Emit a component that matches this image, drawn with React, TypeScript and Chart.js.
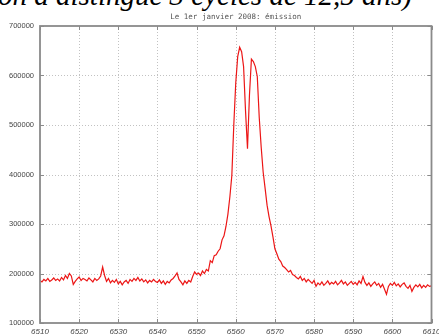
import React, { useEffect, useRef } from "react";
import { Chart, registerables } from "chart.js";

Chart.register(...registerables);

const HEADER_TEXT = "on a distingué 3 cycles de 12,5 ans)";
const TITLE = "Le 1er janvier 2008: émission";

const X_TICKS = [6510, 6520, 6530, 6540, 6550, 6560, 6570, 6580, 6590, 6600, 6610];
const Y_TICKS = [100000, 200000, 300000, 400000, 500000, 600000, 700000];

// wavelength grid (Å): first sample and sampling step
const WAVE_START = 6510;
const WAVE_STEP = 0.5;

// 6510.0 – 6550.0 Å
const fluxBlueWing = [
  186000, 183000, 188000, 185000, 190000, 184000, 187000, 191000, 186000, 189000,
  185000, 192000, 187000, 196000, 190000, 200000, 195000, 178000, 184000, 189000,
  193000, 186000, 190000, 188000, 185000, 191000, 187000, 183000, 190000, 186000,
  189000, 195000, 213000, 196000, 184000, 190000, 181000, 186000, 182000, 188000,
  179000, 184000, 177000, 183000, 186000, 180000, 188000, 184000, 190000, 186000,
  192000, 185000, 189000, 183000, 187000, 181000, 186000, 183000, 188000, 184000,
  182000, 187000, 180000, 185000, 178000, 184000, 181000, 187000, 190000, 195000,
  201000, 188000, 183000, 177000, 185000, 180000, 186000, 183000, 194000, 203000,
  198000,
];

// 6550.5 – 6575.0 Å
const fluxCore = [
  201000, 196000, 205000, 200000, 208000, 205000, 226000, 222000, 236000, 238000,
  245000, 250000, 268000, 276000, 295000, 320000, 355000, 398000, 500000, 585000,
  638000, 657000, 648000, 618000, 528000, 452000, 560000, 633000, 628000, 618000,
  598000, 515000, 455000, 405000, 372000, 338000, 315000, 296000, 274000, 250000,
  240000, 229000, 224000, 215000, 212000, 208000, 203000, 206000, 198000, 196000,
];

// 6575.5 – 6610.0 Å
const fluxRedWing = [
  192000, 189000, 194000, 186000, 190000, 183000, 188000, 184000, 180000, 186000,
  174000, 181000, 177000, 183000, 176000, 180000, 185000, 178000, 182000, 179000,
  184000, 177000, 181000, 186000, 179000, 183000, 176000, 180000, 184000, 178000,
  182000, 177000, 185000, 180000, 194000, 182000, 176000, 181000, 174000, 179000,
  183000, 176000, 180000, 172000, 178000, 168000, 158000, 174000, 180000, 176000,
  182000, 175000, 179000, 173000, 178000, 181000, 174000, 170000, 176000, 164000,
  172000, 177000, 173000, 178000, 171000, 176000, 172000, 177000, 174000, 175000,
];

const FRAME_COLOR = "#8a8a8a";
const GRID_COLOR = "#c2c2c2";
const LINE_COLOR = "rgb(236, 22, 22)";

const framePlugin = {
  id: "gnuplotFrame",
  beforeDatasetsDraw(chart: any) {
    const { ctx, chartArea: a, scales } = chart;
    const x = scales.x;
    const y = scales.y;
    ctx.save();
    ctx.strokeStyle = GRID_COLOR;
    ctx.lineWidth = 1;
    ctx.setLineDash([1, 2]);
    X_TICKS.forEach((v) => {
      const px = Math.round(x.getPixelForValue(v)) + 0.5;
      if (px > a.left + 2 && px < a.right - 2) {
        ctx.beginPath();
        ctx.moveTo(px, a.top);
        ctx.lineTo(px, a.bottom);
        ctx.stroke();
      }
    });
    Y_TICKS.forEach((v) => {
      const py = Math.round(y.getPixelForValue(v)) + 0.5;
      if (py > a.top + 2 && py < a.bottom - 2) {
        ctx.beginPath();
        ctx.moveTo(a.left, py);
        ctx.lineTo(a.right, py);
        ctx.stroke();
      }
    });
    ctx.restore();
  },
  afterDatasetsDraw(chart: any) {
    const { ctx, chartArea: a, scales } = chart;
    const x = scales.x;
    const y = scales.y;
    const t = 4;
    ctx.save();
    ctx.strokeStyle = FRAME_COLOR;
    ctx.lineWidth = 1;
    X_TICKS.forEach((v) => {
      const px = Math.round(x.getPixelForValue(v)) + 0.5;
      ctx.beginPath();
      ctx.moveTo(px, a.bottom);
      ctx.lineTo(px, a.bottom - t);
      ctx.moveTo(px, a.top);
      ctx.lineTo(px, a.top + t);
      ctx.stroke();
    });
    Y_TICKS.forEach((v) => {
      const py = Math.round(y.getPixelForValue(v)) + 0.5;
      ctx.beginPath();
      ctx.moveTo(a.left, py);
      ctx.lineTo(a.left + t, py);
      ctx.moveTo(a.right, py);
      ctx.lineTo(a.right - t, py);
      ctx.stroke();
    });
    ctx.lineWidth = 1.8;
    ctx.strokeRect(a.left, a.top, a.right - a.left, a.bottom - a.top);
    ctx.restore();
  },
  afterDraw(chart: any) {
    const { ctx, chartArea: a } = chart;
    ctx.save();
    ctx.fillStyle = "#555";
    ctx.font = "7.5px 'DejaVu Sans Mono', monospace";
    ctx.textAlign = "center";
    ctx.textBaseline = "middle";
    ctx.fillText(TITLE, (a.left + a.right) / 2, 17);
    ctx.restore();
  },
};

export default function App() {
  const canvasRef = useRef<HTMLCanvasElement | null>(null);

  useEffect(() => {
    const canvas = canvasRef.current;
    if (!canvas) return;
    const allFlux = [...fluxBlueWing, ...fluxCore, ...fluxRedWing];
    const points = allFlux.map((f, i) => ({ x: WAVE_START + i * WAVE_STEP, y: f }));

    const chart = new Chart(canvas, {
      type: "line",
      data: {
        datasets: [
          {
            data: points,
            borderColor: LINE_COLOR,
            borderWidth: 1.2,
            pointRadius: 0,
            tension: 0,
            fill: false,
          },
        ],
      },
      options: {
        animation: false,
        responsive: false,
        devicePixelRatio: 1,
        layout: { padding: { top: 26, right: 7.5, left: 0, bottom: 0 } },
        plugins: {
          legend: { display: false },
          tooltip: { enabled: false },
          title: { display: false },
        },
        scales: {
          x: {
            type: "linear",
            min: 6510,
            max: 6610,
            grid: { display: false, drawTicks: false },
            border: { display: false },
            afterBuildTicks: (scale: any) => {
              scale.ticks = X_TICKS.map((v) => ({ value: v }));
            },
            afterFit: (scale: any) => {
              scale.height = 11;
              scale.paddingLeft = 0;
              scale.paddingRight = 0;
            },
            ticks: {
              autoSkip: false,
              maxRotation: 0,
              padding: 4,
              color: "#444",
              font: { family: "'Liberation Sans', sans-serif", size: 8, style: "italic" },
              callback: (v: any) => String(v),
            },
          },
          y: {
            type: "linear",
            min: 100000,
            max: 700000,
            grid: { display: false, drawTicks: false },
            border: { display: false },
            afterBuildTicks: (scale: any) => {
              scale.ticks = Y_TICKS.map((v) => ({ value: v }));
            },
            afterFit: (scale: any) => {
              scale.width = 40;
            },
            ticks: {
              padding: 6,
              color: "#444",
              font: { family: "'Liberation Sans', sans-serif", size: 7.5 },
              callback: (v: any) => String(v),
            },
          },
        },
      },
      plugins: [framePlugin],
    });
    return () => chart.destroy();
  }, []);

  return (
    <div
      style={{
        position: "fixed",
        left: 0,
        top: 0,
        width: 439,
        height: 334,
        overflow: "hidden",
        background: "#fff",
      }}
    >
      <div
        style={{
          position: "absolute",
          left: -2,
          top: -19,
          fontFamily: "'Liberation Serif', 'Times New Roman', serif",
          fontStyle: "italic",
          fontSize: 29,
          lineHeight: "29px",
          whiteSpace: "nowrap",
          color: "#000",
        }}
      >
        {HEADER_TEXT}
      </div>
      <canvas
        ref={canvasRef}
        width={439}
        height={334}
        style={{ position: "absolute", left: 0, top: 0, width: 439, height: 334 }}
      />
    </div>
  );
}
